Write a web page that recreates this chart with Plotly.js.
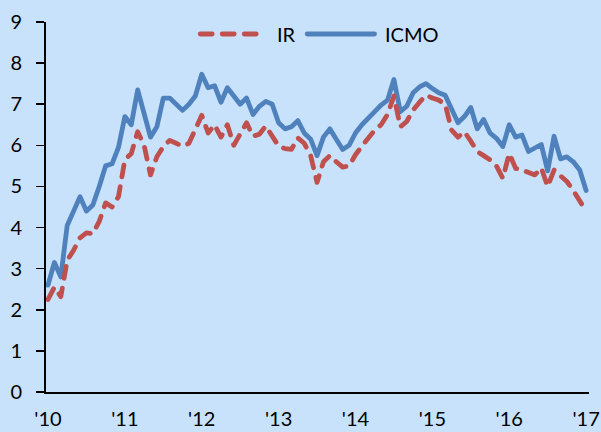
<!DOCTYPE html>
<html>
<head>
<meta charset="utf-8">
<script src="https://cdn.plot.ly/plotly-3.0.1.min.js"></script>
<style>
html,body{margin:0;padding:0;background:#C8E2FC;}
#chart{width:601px;height:432px;}
#chart .scatterlayer .js-line{stroke-linecap:round;stroke-linejoin:round;}
#chart .shapelayer path{stroke-linecap:round;}
</style>
</head>
<body>
<div id="chart"></div>
<script>
// Monthly observations, Jan 2010 .. Jan 2017
const yearLabels = ["'10","'11","'12","'13","'14","'15","'16","'17"];
const seriesNames = ["IR", "ICMO"];
const irValues = [
  2.25,2.55,2.32,3.20,3.45,3.75,3.87,3.85,4.15,4.60,4.50,4.75,
  5.65,5.80,6.33,6.00,5.28,5.72,5.97,6.12,6.05,5.98,6.05,6.40,
  6.73,6.30,6.50,6.20,6.50,6.00,6.30,6.55,6.22,6.27,6.47,6.20,
  5.98,5.92,5.90,6.18,6.05,5.75,5.10,5.60,5.75,5.60,5.47,5.50,
  5.77,5.98,6.18,6.37,6.50,6.75,7.20,6.45,6.58,6.86,7.05,7.22,
  7.15,7.10,7.00,6.37,6.20,6.33,6.10,5.85,5.75,5.65,5.50,5.20,
  5.80,5.44,5.40,5.35,5.28,5.45,5.00,5.40,5.25,5.12,4.90,4.65,
  4.40
];
const icmoValues = [
  2.60,3.15,2.80,4.05,4.40,4.75,4.40,4.55,5.00,5.50,5.55,5.95,
  6.70,6.50,7.35,6.75,6.20,6.45,7.15,7.15,7.00,6.85,7.00,7.20,
  7.73,7.40,7.45,7.05,7.40,7.20,7.00,7.15,6.75,6.95,7.07,7.00,
  6.55,6.40,6.45,6.60,6.30,6.15,5.75,6.20,6.40,6.15,5.90,6.00,
  6.30,6.50,6.68,6.82,6.98,7.10,7.60,6.82,6.95,7.28,7.42,7.50,
  7.38,7.28,7.22,6.86,6.55,6.70,6.92,6.40,6.63,6.30,6.17,5.97,
  6.50,6.20,6.25,5.85,5.95,6.02,5.38,6.22,5.67,5.72,5.60,5.40,
  4.90
];

const monthIndex = icmoValues.map((_, i) => i);
const tickVals = yearLabels.map((_, i) => i * 12);

const red = '#C0504D', blue = '#4F81BD';
const font = 'Lato, "Open Sans", sans-serif';
const dashPattern = '12px,10px';

const traces = [
  {x: monthIndex, y: icmoValues, name: seriesNames[1], type: 'scatter', mode: 'lines',
   line: {color: blue, width: 4.8, shape: 'linear'}},
  {x: monthIndex, y: irValues, name: seriesNames[0], type: 'scatter', mode: 'lines',
   line: {color: red, width: 4.8, dash: dashPattern}}
];

const layout = {
  width: 601, height: 432,
  margin: {l: 46, r: 12, t: 22, b: 40, pad: 0},
  paper_bgcolor: '#C8E2FC', plot_bgcolor: '#C8E2FC',
  showlegend: false,
  font: {family: font, size: 20, color: '#000'},
  xaxis: {
    range: [-0.31, 84.45], tickmode: 'array', tickvals: tickVals, ticktext: yearLabels,
    showgrid: false, zeroline: false, showline: true, linecolor: '#000', linewidth: 2,
    ticks: '', ticklabelstandoff: 8, tickfont: {family: font, size: 20, color: '#000'}
  },
  yaxis: {
    range: [0, 9], tickmode: 'array', tickvals: [0,1,2,3,4,5,6,7,8,9],
    showgrid: false, zeroline: false, showline: true, linecolor: '#000', linewidth: 2,
    ticks: 'outside', ticklen: 8, tickwidth: 1.5, tickcolor: '#000',
    ticklabelstandoff: 10, tickfont: {family: font, size: 20, color: '#000'}
  },
  shapes: [
    {type: 'line', xref: 'paper', yref: 'paper', x0: 0.284, x1: 0.390, y0: 0.9676, y1: 0.9676,
     line: {color: red, width: 4.8, dash: dashPattern}},
    {type: 'line', xref: 'paper', yref: 'paper', x0: 0.481, x1: 0.605, y0: 0.9676, y1: 0.9676,
     line: {color: blue, width: 4.8}}
  ],
  annotations: [
    {xref: 'paper', yref: 'paper', x: 0.4217, y: 0.9676, xanchor: 'left', yanchor: 'middle',
     text: seriesNames[0], showarrow: false, font: {family: font, size: 20, color: '#000'}},
    {xref: 'paper', yref: 'paper', x: 0.6206, y: 0.9676, xanchor: 'left', yanchor: 'middle',
     text: seriesNames[1], showarrow: false, font: {family: font, size: 20, color: '#000'}}
  ]
};

Plotly.newPlot('chart', traces, layout, {displayModeBar: false, staticPlot: true});
</script>
</body>
</html>
